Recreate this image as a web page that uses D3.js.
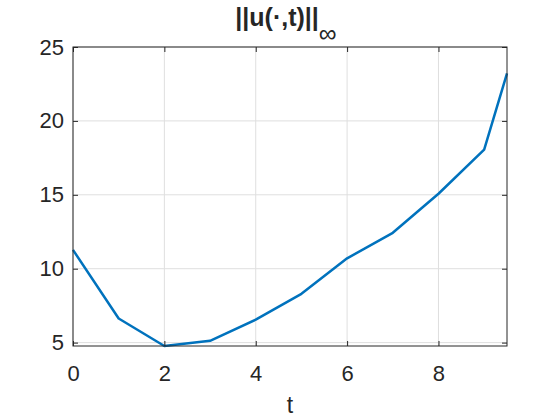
<!DOCTYPE html>
<html>
<head>
<meta charset="utf-8">
<script src="https://cdn.jsdelivr.net/npm/d3@7"></script>
<style>
  body { margin: 0; background: #fff; }
  text { font-family: "Liberation Sans", Arial, sans-serif; fill: #262626; }
</style>
</head>
<body>
<div id="chart"></div>
<script>
const tValues = [0, 1, 2, 3, 4, 5, 6, 7, 8, 9, 9.5];
const normValues = [11.27, 6.63, 4.77, 5.12, 6.55, 8.30, 10.70, 12.43, 15.07, 18.06, 23.22];
const xTicks = [0, 2, 4, 6, 8];
const yTicks = [5, 10, 15, 20, 25];

const W = 560, H = 420;
const margin = { top: 47, right: 53, bottom: 74, left: 73 };
const width = W - margin.left - margin.right,
      height = H - margin.top - margin.bottom;

const svg = d3.select("#chart").append("svg")
  .attr("width", W)
  .attr("height", H);

const g = svg.append("g")
  .attr("transform", `translate(${margin.left},${margin.top})`);

const x = d3.scaleLinear().domain([0, 9.5]).range([0, width]);
const y = d3.scaleLinear().domain([4.77, 25]).range([height, 0]);

// grid
g.append("g").selectAll("line")
  .data(xTicks)
  .join("line")
  .attr("x1", d => x(d)).attr("x2", d => x(d))
  .attr("y1", 0).attr("y2", height)
  .attr("stroke", "#dfdfdf").attr("stroke-width", 1);

g.append("g").selectAll("line")
  .data(yTicks)
  .join("line")
  .attr("x1", 0).attr("x2", width)
  .attr("y1", d => y(d)).attr("y2", d => y(d))
  .attr("stroke", "#dfdfdf").attr("stroke-width", 1);

// data line
const line = d3.line()
  .x((d, i) => x(tValues[i]))
  .y(d => y(d));

g.append("path")
  .datum(normValues)
  .attr("fill", "none")
  .attr("stroke", "#0072BD")
  .attr("stroke-width", 2.5)
  .attr("stroke-linejoin", "round")
  .attr("d", line);

// axes (MATLAB style: inward ticks, box)
const tickLen = 5;
const styleAxis = sel => {
  sel.attr("font-size", 22).attr("font-family", null);
  sel.select(".domain").remove();
  sel.selectAll(".tick line").attr("stroke", "#262626");
  sel.selectAll(".tick text")
    .style("font-size", "22px")
    .attr("fill", "#262626");
};

g.append("g")
  .attr("transform", `translate(0,${height})`)
  .call(d3.axisBottom(x).tickValues(xTicks).tickSize(-tickLen).tickPadding(19).tickFormat(d3.format("d")))
  .call(styleAxis);

g.append("g")
  .call(d3.axisTop(x).tickValues(xTicks).tickSize(-tickLen).tickFormat(""))
  .call(styleAxis);

g.append("g")
  .call(d3.axisLeft(y).tickValues(yTicks).tickSize(-tickLen).tickPadding(9).tickFormat(d3.format("d")))
  .call(styleAxis);

g.append("g")
  .attr("transform", `translate(${width},0)`)
  .call(d3.axisRight(y).tickValues(yTicks).tickSize(-tickLen).tickFormat(""))
  .call(styleAxis);

g.append("rect")
  .attr("width", width)
  .attr("height", height)
  .attr("fill", "none")
  .attr("stroke", "#262626")
  .attr("stroke-width", 1);

// x label
svg.append("text")
  .attr("x", margin.left + width / 2)
  .attr("y", 413)
  .attr("text-anchor", "middle")
  .style("font-size", "23px")
  .text("t");

// title
const title = svg.append("text")
  .attr("x", margin.left + width / 2 - 4)
  .attr("y", 26)
  .attr("text-anchor", "middle")
  .style("font-size", "25px")
  .style("font-weight", "bold")
  .attr("fill", "#000");
title.append("tspan").text("||u(\u00b7,t)||");
title.append("tspan")
  .attr("dy", 16)
  .style("font-size", "25px")
  .style("font-weight", "normal")
  .text("\u221e");
</script>
</body>
</html>
